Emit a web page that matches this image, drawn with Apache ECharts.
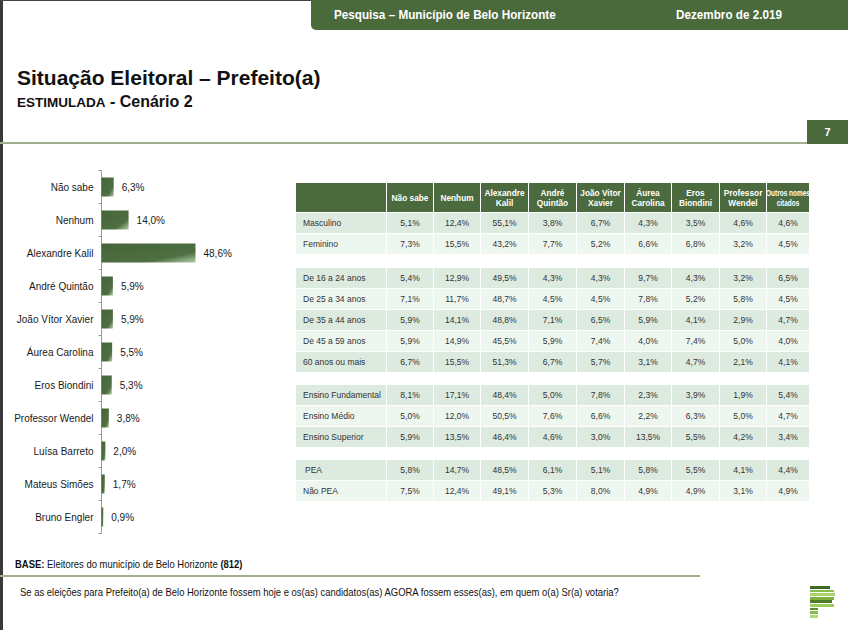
<!DOCTYPE html>
<html>
<head>
<meta charset="utf-8">
<script src="https://cdn.jsdelivr.net/npm/echarts@6/dist/echarts.min.js"></script>
<style>
  html, body { margin:0; padding:0; background:#fff; }
  body { width:848px; height:630px; position:relative; overflow:hidden; font-family:"Liberation Sans", Arial, sans-serif; }
  #chart { position:absolute; left:0; top:0; width:848px; height:630px; }
  .abs { position:absolute; }
  .narrow { font-family:"Liberation Sans", Arial, sans-serif; transform:scaleX(0.9); transform-origin:0 50%; white-space:nowrap; }
  .cell { position:absolute; box-sizing:border-box; display:flex; align-items:center; justify-content:center; text-align:center; font-size:8.5px; color:#333; }
  .hcell { background:#4b6a3d; color:#fff; font-weight:bold; line-height:10px; font-size:8.3px; white-space:nowrap; }
  .lab { justify-content:flex-start; padding-left:7px; }
  .sq { position:absolute; left:50%; top:50%; font-size:8.3px; transform:translate(-50%,-50%) scaleX(0.78); white-space:nowrap; }
</style>
</head>
<body>
<div id="chart"></div>
<div id="overlay"></div>
<script>
// ---------- data ----------
const candidates = ["Não sabe","Nenhum","Alexandre Kalil","André Quintão","João Vítor Xavier","Áurea Carolina","Eros Biondini","Professor Wendel","Luísa Barreto","Mateus Simões","Bruno Engler"];
const totals = [6.3, 14.0, 48.6, 5.9, 5.9, 5.5, 5.3, 3.8, 2.0, 1.7, 0.9];

const tableColumns = ["Não sabe","Nenhum","Alexandre\nKalil","André\nQuintão","João Vitor\nXavier","Áurea\nCarolina","Eros\nBiondini","Professor\nWendel","Outros nomes\ncitados"];
const sexRows = ["Masculino","Feminino"];
const sexValues = [
  [5.1,12.4,55.1,3.8,6.7,4.3,3.5,4.6,4.6],
  [7.3,15.5,43.2,7.7,5.2,6.6,6.8,3.2,4.5]
];
const ageRows = ["De 16 a 24 anos","De 25 a 34 anos","De 35 a 44 anos","De 45 a 59 anos","60 anos ou mais"];
const ageValues = [
  [5.4,12.9,49.5,4.3,4.3,9.7,4.3,3.2,6.5],
  [7.1,11.7,48.7,4.5,4.5,7.8,5.2,5.8,4.5],
  [5.9,14.1,48.8,7.1,6.5,5.9,4.1,2.9,4.7],
  [5.9,14.9,45.5,5.9,7.4,4.0,7.4,5.0,4.0],
  [6.7,15.5,51.3,6.7,5.7,3.1,4.7,2.1,4.1]
];
const eduRows = ["Ensino Fundamental","Ensino Médio","Ensino Superior"];
const eduValues = [
  [8.1,17.1,48.4,5.0,7.8,2.3,3.9,1.9,5.4],
  [5.0,12.0,50.5,7.6,6.6,2.2,6.3,5.0,4.7],
  [5.9,13.5,46.4,4.6,3.0,13.5,5.5,4.2,3.4]
];
const peaRows = ["PEA","Não PEA"];
const peaValues = [
  [5.8,14.7,48.5,6.1,5.1,5.8,5.5,4.1,4.4],
  [7.5,12.4,49.1,5.3,8.0,4.9,4.9,3.1,4.9]
];

const fmt = v => v.toFixed(1).replace('.', ',') + '%';

// ---------- static page decoration ----------
const ov = document.getElementById('overlay');
function add(html){ ov.insertAdjacentHTML('beforeend', html); }

add('<div class="abs" style="left:0;top:0;width:3px;height:630px;background:#3a3a3a"></div>');
add('<div class="abs" style="left:0;top:0;width:848px;height:1px;background:#444"></div>');
add('<div class="abs" style="left:311px;top:0;width:537px;height:30px;background:#4a6a3c;border-bottom-left-radius:5px"></div>');
add('<div class="abs narrow" style="left:334px;top:7px;color:#fff;font-weight:bold;font-size:13px">Pesquisa – Município de Belo Horizonte</div>');
add('<div class="abs narrow" style="left:676px;top:7px;color:#fff;font-weight:bold;font-size:13px">Dezembro de 2.019</div>');

add('<div class="abs" style="left:17px;top:66px;font-weight:bold;font-size:21px;color:#111;white-space:nowrap">Situação Eleitoral – Prefeito(a)</div>');
add('<div class="abs" style="left:17px;top:93px;font-weight:bold;color:#111;white-space:nowrap"><span style="font-size:13.5px">ESTIMULADA</span><span style="font-size:16px"> - Cenário 2</span></div>');

add('<div class="abs" style="left:0;top:142px;width:807px;height:2px;background:#9fb08f"></div>');
add('<div class="abs" style="left:807px;top:120px;width:41px;height:24px;background:#4a6a3c;color:#fff;font-weight:bold;font-size:11px;display:flex;align-items:center;justify-content:center">7</div>');

add('<div class="abs narrow" style="left:15px;top:558px;font-size:10.5px;color:#111"><b>BASE:</b> Eleitores do município de Belo Horizonte <b>(812)</b></div>');
add('<div class="abs" style="left:0;top:575px;width:700px;height:2px;background:#9fb08f"></div>');
add('<div class="abs narrow" style="left:20px;top:586px;font-size:10.5px;color:#111">Se as eleições para Prefeito(a) de Belo Horizonte fossem hoje e os(as) candidatos(as) AGORA fossem esses(as), em quem o(a) Sr(a) votaria?</div>');

// logo (decoration)
const logoRows = [[20,'#3f6a25'],[24,'#8cbf4a'],[25,'#a9d26a'],[24,'#7fb03c'],[22,'#4f7a2a'],[24,'#9ccc5a'],[8,'#5f8a30'],[8,'#8ab84a'],[8,'#b0d77a']];
logoRows.forEach((r,i)=>add(`<div class="abs" style="left:810px;top:${586+i*3.6}px;width:${r[0]}px;height:2.8px;background:${r[1]}"></div>`));

// ---------- table ----------
const colX = [296,387,434,481,529,577,625,672,720,767];
const colW = [90,46,46,47,47,47,46,47,46,42];
add(`<div class="cell hcell" style="left:${colX[0]}px;top:183px;width:${colW[0]}px;height:29px"></div>`);
tableColumns.forEach((c,i)=>{
  const inner = c.startsWith('Outros') ? `<span class="sq">${c.replace('\n','<br>')}</span>` : c.replace('\n','<br>');
  add(`<div class="cell hcell" style="left:${colX[i+1]}px;top:183px;width:${colW[i+1]}px;height:29px">${inner}</div>`);
});
const groups = [[sexRows,sexValues,213],[ageRows,ageValues,268],[eduRows,eduValues,385],[peaRows,peaValues,460]];
groups.forEach(([rows,vals,top])=>{
  rows.forEach((r,ri)=>{
    const y = top + ri*21;
    const bg = ri%2===0 ? '#dceae0' : '#eef6f0';
    const pad = (r==='PEA') ? 'padding-left:9px;' : '';
    add(`<div class="cell lab" style="left:${colX[0]}px;top:${y}px;width:${colW[0]}px;height:20px;background:${bg};${pad}">${r}</div>`);
    vals[ri].forEach((v,ci)=>{
      add(`<div class="cell" style="left:${colX[ci+1]}px;top:${y}px;width:${colW[ci+1]}px;height:20px;background:${bg}">${fmt(v)}</div>`);
    });
  });
});

// ---------- bar chart ----------
const chart = echarts.init(document.getElementById('chart'), null, {renderer:'svg', width:848, height:630});
chart.setOption({
  animation:false,
  backgroundColor:'transparent',
  grid:{left:101.5, top:170.5, width:193.4, height:363, containLabel:false},
  xAxis:{type:'value', min:0, max:100, show:false},
  yAxis:{
    type:'category', inverse:true, data:candidates,
    axisLine:{show:true, lineStyle:{color:'#9a9a9a', width:1}},
    axisTick:{show:true, length:3, inside:false, lineStyle:{color:'#9a9a9a'}},
    axisLabel:{margin:8, fontSize:10, color:'#1a1a1a', fontFamily:'Liberation Sans, Arial, sans-serif'}
  },
  series:[{
    type:'bar', data:totals, barWidth:19,
    itemStyle:{color:new echarts.graphic.LinearGradient(0,0,1,1,[
      {offset:0,color:'#456538'},{offset:0.72,color:'#4e6f41'},{offset:1,color:'#b3cca8'}
    ])},
    label:{show:true, position:'right', distance:8, fontSize:10, color:'#1a1a1a',
      fontFamily:'Liberation Sans, Arial, sans-serif', formatter:p=>fmt(p.value)}
  }]
});
</script>
</body>
</html>
